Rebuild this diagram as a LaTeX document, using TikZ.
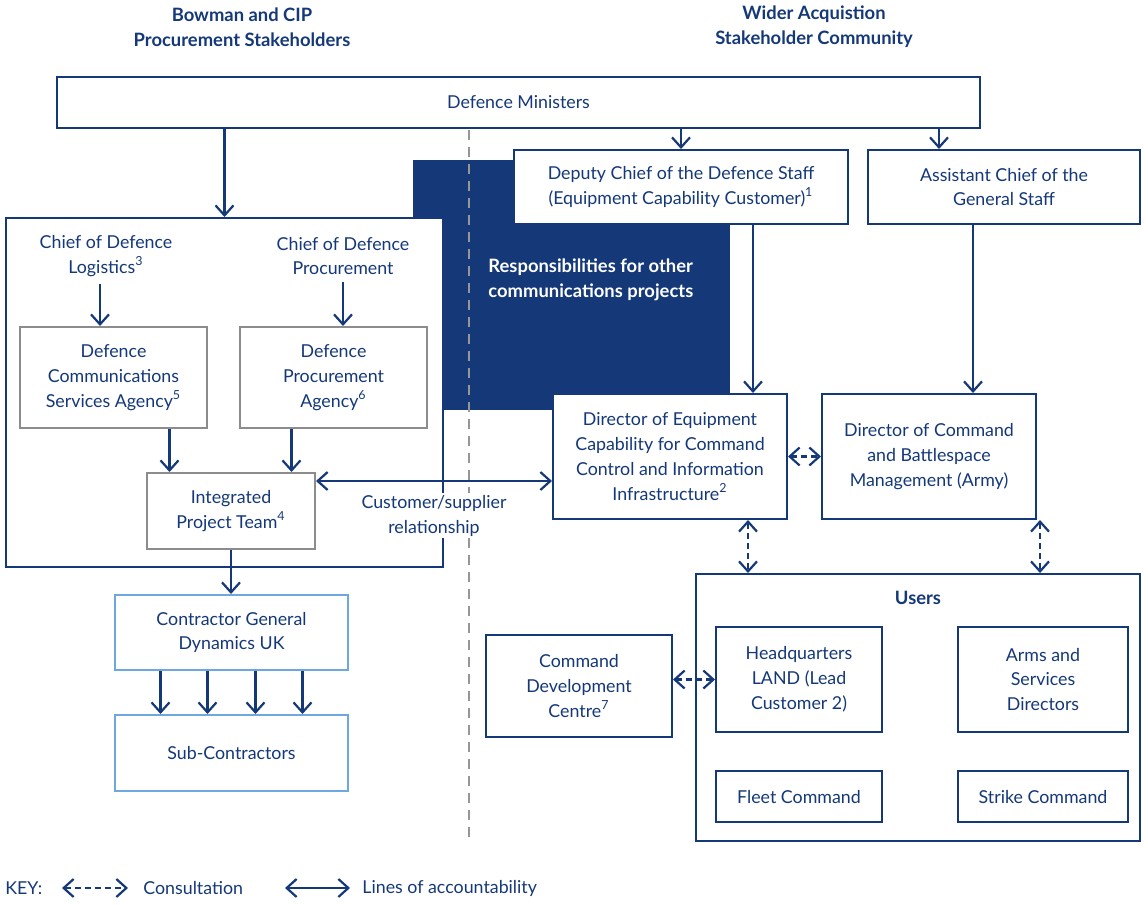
\documentclass[tikz,border=0pt]{standalone}
\usepackage{fontspec}
\setmainfont{Lato}
\usepackage{xcolor}
\usetikzlibrary{arrows.meta,calc}
\definecolor{navy}{RGB}{20,56,120}
\definecolor{paleblue}{RGB}{111,168,222}
\definecolor{boxgrey}{RGB}{140,140,140}
\definecolor{divgrey}{RGB}{150,150,150}
\tikzset{
  box/.style={draw=navy, line width=1pt, fill=white, align=center, text=navy, inner sep=0pt, font=\fontsize{8.9}{12.4}\selectfont},
  greybox/.style={box, draw=boxgrey},
  ctrbox/.style={box, draw=paleblue},
  txt/.style={text=navy, align=center, font=\fontsize{8.9}{12.4}\selectfont},
  head/.style={txt, font=\fontsize{9.2}{12.4}\selectfont\bfseries},
  arr/.style={-{Straight Barb[length=5pt,width=9pt]}, navy, line width=1.1pt},
  dblarr/.style={{Straight Barb[length=5pt,width=9pt]}-{Straight Barb[length=5pt,width=9pt]}, navy, line width=1.1pt},
  consult/.style={dblarr, dash pattern=on 3pt off 2pt},
  divider/.style={divgrey, line width=1pt, dash pattern=on 5pt off 3.5pt},
}

\begin{document}
\begin{tikzpicture}[x=0.5pt, y=-0.5pt]
\useasboundingbox (0,0) rectangle (1144,905);
\node[head] (lhead) at (242,27) {Bowman and CIP\\Procurement Stakeholders};
\node[head] (rhead) at (814,27) {Wider Acquistion\\Stakeholder Community};
\node[fill=navy, inner sep=0pt, minimum width=158.5pt, minimum height=125pt] (resp) at (571.5,285) {};
\node[head, text=white, align=left, anchor=west, inner sep=0pt] (resplbl) at (488,279.5) {Responsibilities for other\\communications projects};
\node[box, minimum width=218.5pt, minimum height=174.5pt] (procure) at (224.5,392.5) {};
\coordinate (divtop) at (469,130);
\coordinate (divbot) at (469,842);
\draw[divider] (divtop) -- (divbot);
\node[box, minimum width=461.5pt, minimum height=25.5pt] (dm) at (518.5,102.5) {Defence Ministers};
\node[box, minimum width=167pt, minimum height=37pt] (dcds) at (681,187) {Deputy Chief of the Defence Staff\\(Equipment Capability Customer)\textsuperscript{1}};
\node[box, minimum width=136pt, minimum height=37pt] (acgs) at (1004,187) {Assistant Chief of the\\General Staff};
\node[txt] (cdl) at (106,256) {Chief of Defence\\Logistics\textsuperscript{3}};
\node[txt] (cdp) at (343,256) {Chief of Defence\\Procurement};
\node[greybox, minimum width=93.5pt, minimum height=50.5pt] (dcsa) at (113.5,377.5) {Defence\\Communications\\Services Agency\textsuperscript{5}};
\node[greybox, minimum width=93.5pt, minimum height=50.5pt] (dpa) at (333.5,377.5) {Defence\\Procurement\\Agency\textsuperscript{6}};
\node[greybox, minimum width=84pt, minimum height=38pt] (ipt) at (231,511) {Integrated\\Project Team\textsuperscript{4}};
\node[ctrbox, minimum width=116.5pt, minimum height=37.5pt] (gd) at (231.5,632.5) {Contractor General\\Dynamics UK};
\node[ctrbox, minimum width=116.5pt, minimum height=38pt] (sub) at (231.5,753) {Sub-Contractors};
\node[box, minimum width=117pt, minimum height=62.5pt] (dec) at (670,456.5) {Director of Equipment\\Capability for Command\\Control and Information\\Infrastructure\textsuperscript{2}};
\node[box, minimum width=107pt, minimum height=62.5pt] (dcbm) at (929,456.5) {Director of Command\\and Battlespace\\Management (Army)};
\node[box, minimum width=222pt, minimum height=133.5pt] (users) at (918,707.5) {};
\node[head] (userslbl) at (918,598) {Users};
\node[box, minimum width=93pt, minimum height=51pt] (cdc) at (579,686) {Command\\Development\\Centre\textsuperscript{7}};
\node[box, minimum width=83pt, minimum height=52.5pt] (hq) at (799,679.5) {Headquarters\\LAND (Lead\\Customer 2)};
\node[box, minimum width=85pt, minimum height=52.5pt] (asd) at (1043,679.5) {Arms and\\Services\\Directors};
\node[box, minimum width=83pt, minimum height=25.5pt] (fleet) at (799,796.5) {Fleet Command};
\node[box, minimum width=85pt, minimum height=25.5pt] (strike) at (1043,796.5) {Strike Command};

\coordinate (acgsin) at ($(acgs.north west)+(72,0)$);
\coordinate (cdlout) at ($(cdl.south)+(-6,0)$);
\coordinate (dcsaout) at ($(dcsa.south)+(56,0)$);
\coordinate (dpaout) at ($(dpa.south)+(-42,0)$);
\coordinate (dcdsout) at ($(dcds.south)+(72,0)$);
\coordinate (acgsout) at ($(acgs.south)+(-31,0)$);
\coordinate (csl) at ($(ipt.north east)+(0,9)$);
\coordinate (decout) at ($(dec.south)+(78,0)$);
\coordinate (dcbmout) at ($(dcbm.south)+(111,0)$);

\draw[arr] (dm.south -| procure.north) -- (procure.north);
\draw[arr] (dm.south -| dcds.north) -- (dcds.north);
\draw[arr] (dm.south -| acgsin) -- (acgsin);
\draw[arr] (cdlout) -- (cdlout |- dcsa.north);
\draw[arr] (cdp.south) -- (cdp.south |- dpa.north);
\draw[arr] (dcsaout) -- (dcsaout |- ipt.north);
\draw[arr] (dpaout) -- (dpaout |- ipt.north);
\draw[arr] (ipt.south) -- (ipt.south |- gd.north);
\foreach \dx in {-71,-24,24,71}
  \draw[arr] ($(gd.south)+(\dx,0)$) -- ($(sub.north)+(\dx,0)$);
\draw[arr] (dcdsout) -- (dcdsout |- dec.north);
\draw[arr] (acgsout) -- (acgsout |- dcbm.north);
\draw[dblarr] (csl) -- (csl -| dec.west) node[midway, below=5.5pt, txt, fill=white, inner sep=1pt] (custlbl) {Customer/supplier\\relationship};
\draw[consult] (dec.east) -- (dcbm.west);
\draw[consult] (decout) -- (decout |- users.north);
\draw[consult] (dcbmout) -- (dcbmout |- users.north);
\draw[consult] (cdc.east |- hq.west) -- (hq.west);

\node[txt, anchor=west, inner sep=0pt] (keylbl) at (5,888) {KEY:};
\coordinate (k1) at (62,888);
\coordinate (k2) at (128,888);
\draw[consult] (k1) -- (k2);
\node[txt, anchor=west, inner sep=0pt] (conslbl) at (143,888) {Consultation};
\coordinate (k3) at (285,888);
\coordinate (k4) at (350,888);
\draw[dblarr] (k3) -- (k4);
\node[txt, anchor=west, inner sep=0pt] (acclbl) at (362,888) {Lines of accountability};
\end{tikzpicture}
\end{document}
